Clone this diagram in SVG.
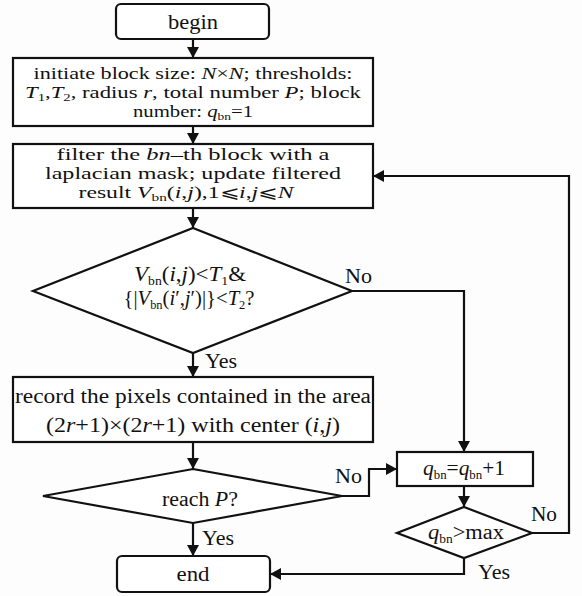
<svg xmlns="http://www.w3.org/2000/svg" width="582" height="596" viewBox="0 0 582 596">
<defs>
<marker id="ah" markerWidth="12" markerHeight="12" refX="11" refY="6" orient="auto" markerUnits="userSpaceOnUse">
<path d="M0,0 L11,6 L0,12 Z" fill="#111"/>
</marker>
<style>
.s{fill:#fff;stroke:#111;stroke-width:2.2}
.t{font-size:20px;fill:#111;text-anchor:middle}
.m{font-size:17px}
.l{font-size:20px;fill:#111}
.i{font-style:italic}
.b{font-size:12px}
.m .b{font-size:11px}
.c{fill:none;stroke:#111;stroke-width:2.2}
</style>
</defs>
<rect width="582" height="596" fill="#fdfdfd"/>
<g font-family="'Liberation Serif', 'Times New Roman', serif">
<g id="connectors">
<path class="c" d="M193 39 V58" marker-end="url(#ah)"/>
<path class="c" d="M193 126 V144" marker-end="url(#ah)"/>
<path class="c" d="M193 208 V228" marker-end="url(#ah)"/>
<path class="c" d="M193 353 V377" marker-end="url(#ah)"/>
<path class="c" d="M352 291 H464 V452" marker-end="url(#ah)"/>
<path class="c" d="M193 442 V469" marker-end="url(#ah)"/>
<path class="c" d="M193 523 V556" marker-end="url(#ah)"/>
<path class="c" d="M342 496 H369 V469 H397" marker-end="url(#ah)"/>
<path class="c" d="M464 486 V507" marker-end="url(#ah)"/>
<path class="c" d="M532 533 H569 V176 H373" marker-end="url(#ah)"/>
<path class="c" d="M464 558 V574 H270" marker-end="url(#ah)"/>
<text class="l" x="345" y="283" textLength="27" lengthAdjust="spacingAndGlyphs">No</text>
<text class="l" x="205" y="368" textLength="32" lengthAdjust="spacingAndGlyphs">Yes</text>
<text class="l" x="335" y="483" textLength="27" lengthAdjust="spacingAndGlyphs">No</text>
<text class="l" x="202" y="545" textLength="32" lengthAdjust="spacingAndGlyphs">Yes</text>
<text class="l" x="531" y="521" textLength="26" lengthAdjust="spacingAndGlyphs">No</text>
<text class="l" x="478" y="579" textLength="32" lengthAdjust="spacingAndGlyphs">Yes</text>
</g>
<g id="begin">
<rect class="s" x="116" y="4" width="153" height="35" rx="5"/>
<text class="t" x="193" y="29" textLength="50" lengthAdjust="spacingAndGlyphs">begin</text>
</g>
<g id="init">
<rect class="s" x="13" y="58" width="360" height="68"/>
<text class="t m"><tspan x="193" y="79" textLength="319" lengthAdjust="spacingAndGlyphs">initiate block size: <tspan class="i">N</tspan>×<tspan class="i">N</tspan>; thresholds:</tspan><tspan x="193" y="98" textLength="336" lengthAdjust="spacingAndGlyphs"><tspan class="i">T</tspan><tspan class="b" dy="3">1</tspan><tspan dy="-3">,</tspan><tspan class="i">T</tspan><tspan class="b" dy="3">2</tspan><tspan dy="-3">, radius </tspan><tspan class="i">r</tspan>, total number <tspan class="i">P</tspan>; block</tspan><tspan x="193" y="117" textLength="120" lengthAdjust="spacingAndGlyphs">number: <tspan class="i">q</tspan><tspan class="b" dy="3">bn</tspan><tspan dy="-3">=1</tspan></tspan></text>
</g>
<g id="filter">
<rect class="s" x="13" y="144" width="360" height="64"/>
<text class="t m"><tspan x="193" y="160" textLength="273" lengthAdjust="spacingAndGlyphs">filter the <tspan class="i">bn</tspan>–th block with a</tspan><tspan x="193" y="179" textLength="296" lengthAdjust="spacingAndGlyphs">laplacian mask; update filtered</tspan><tspan x="186" y="198" textLength="215" lengthAdjust="spacingAndGlyphs">result <tspan class="i">V</tspan><tspan class="b" dy="3">bn</tspan><tspan dy="-3">(</tspan><tspan class="i">i</tspan>,<tspan class="i">j</tspan>),1⩽<tspan class="i">i</tspan>,<tspan class="i">j</tspan>⩽<tspan class="i">N</tspan></tspan></text>
</g>
<g id="cond1">
<polygon class="s" points="193,228 352,291 193,353 33,291"/>
<text class="t"><tspan x="190" y="281" textLength="112" lengthAdjust="spacingAndGlyphs"><tspan class="i">V</tspan><tspan class="b" dy="4">bn</tspan><tspan dy="-4">(</tspan><tspan class="i">i</tspan>,<tspan class="i">j</tspan>)&lt;<tspan class="i">T</tspan><tspan class="b" dy="4">1</tspan><tspan dy="-4">&amp;</tspan></tspan><tspan x="189" y="305" textLength="131" lengthAdjust="spacingAndGlyphs">{|<tspan class="i">V</tspan><tspan class="b" dy="4">bn</tspan><tspan dy="-4">(</tspan><tspan class="i">i</tspan>′,<tspan class="i">j</tspan>′)|}&lt;<tspan class="i">T</tspan><tspan class="b" dy="4">2</tspan><tspan dy="-4">?</tspan></tspan></text>
</g>
<g id="record">
<rect class="s" x="13" y="377" width="360" height="65"/>
<text class="t"><tspan x="193" y="403" textLength="356" lengthAdjust="spacingAndGlyphs">record the pixels contained in the area</tspan><tspan x="193" y="432" textLength="294" lengthAdjust="spacingAndGlyphs">(2<tspan class="i">r</tspan>+1)×(2<tspan class="i">r</tspan>+1) with center (<tspan class="i">i</tspan>,<tspan class="i">j</tspan>)</tspan></text>
</g>
<g id="reach">
<polygon class="s" points="193,469 342,496 193,523 43,496"/>
<text class="t" x="200" y="506" textLength="76" lengthAdjust="spacingAndGlyphs">reach <tspan class="i">P</tspan>?</text>
</g>
<g id="incr">
<rect class="s" x="397" y="452" width="136" height="34"/>
<text class="t" x="464" y="475" textLength="82" lengthAdjust="spacingAndGlyphs"><tspan class="i">q</tspan><tspan class="b" dy="4">bn</tspan><tspan dy="-4">=</tspan><tspan class="i">q</tspan><tspan class="b" dy="4">bn</tspan><tspan dy="-4">+1</tspan></text>
</g>
<g id="cond2">
<polygon class="s" points="464,507 532,533 464,558 397,533"/>
<text class="t" x="466" y="539" textLength="76" lengthAdjust="spacingAndGlyphs"><tspan class="i">q</tspan><tspan class="b" dy="4">bn</tspan><tspan dy="-4">&gt;max</tspan></text>
</g>
<g id="end">
<rect class="s" x="117" y="556" width="153" height="36" rx="5"/>
<text class="t" x="193" y="581" textLength="33" lengthAdjust="spacingAndGlyphs">end</text>
</g>
</g>
</svg>
